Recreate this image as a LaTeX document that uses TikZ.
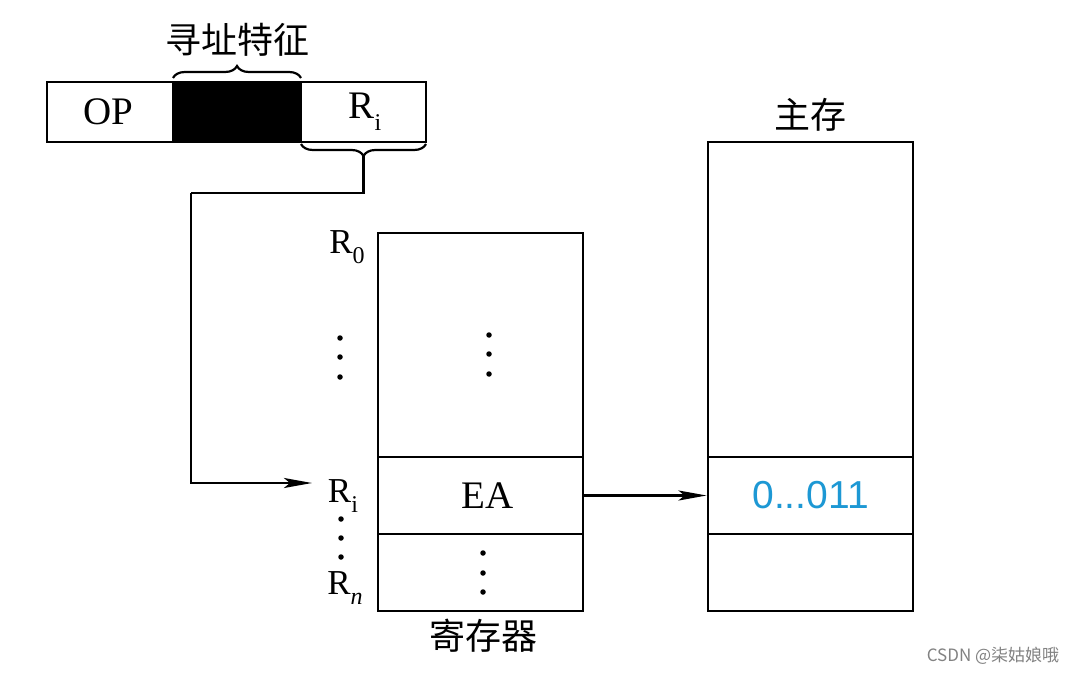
\documentclass[tikz,border=0pt]{standalone}
\usepackage{fontspec}
\setmainfont{Liberation Serif}
\newfontfamily\cjk{Noto Sans CJK SC}
\newfontfamily\sansf{Liberation Sans}
\usetikzlibrary{arrows.meta,decorations.pathreplacing}
\definecolor{valblue}{RGB}{29,152,212}
\definecolor{wmgray}{RGB}{130,130,130}
\newcommand\subt[1]{\raisebox{-.3em}{\fontsize{24}{24}\selectfont #1}}
\begin{document}
\begin{tikzpicture}[x=1pt,y=-1pt,
  cell/.style={draw,line width=2.9pt,inner sep=0pt,minimum width=#1,anchor=center},
  txt/.style={font=\fontsize{39}{42}\selectfont,inner sep=0pt},
  lbl/.style={font=\fontsize{35}{38}\selectfont,inner sep=0pt},
  cjkt/.style={font=\cjk\fontsize{36}{40}\selectfont,inner sep=0pt},
  conn/.style={line width=2.6pt},
  arr/.style={line width=2.6pt,-{Stealth[length=28pt,width=10pt,inset=6pt]}},
  brc/.style={line width=2.2pt,decorate,decoration={brace,amplitude=12pt,aspect=0.5}},
  dotc/.style={fill,circle,inner sep=0pt,minimum size=5.5pt}
]
\useasboundingbox[fill=white] (0,0) rectangle (1077,674);

% instruction word
\node[cell=126pt,minimum height=60pt,txt] (op) at (110,112) {OP\hspace*{4pt}};
\node[cell=128pt,minimum height=60pt,fill=black] (mode) at (237,112) {};
\node[cell=125pt,minimum height=60pt,txt] (ri) at (363.5,112) {\hspace*{3pt}R\subt{i}};
\draw[brc] (173,78) -- (301,78);
\node[cjkt] (feat) at (237,40) {寻址特征};
\draw[brc] (426,144) -- (301,144);
\coordinate (bt) at (363.5,156);
\coordinate (c1) at (191,193);
\coordinate (arrEnd) at (312,483);

% registers
\node[cell=205pt,minimum height=224pt] (regTop) at (480.5,345) {};
\node[cell=205pt,minimum height=77pt,txt] (regEA) at (480.5,495.5) {\hspace*{14pt}EA};
\node[cell=205pt,minimum height=77pt] (regN) at (480.5,572.5) {};
\node[cjkt] (regL) at (483,636) {寄存器};

\node[lbl] (r0) at (347,247) {R\subt{0}};
\node[lbl] (rI) at (343,496) {R\subt{i}};
\node[lbl] (rN) at (345,588) {R\subt{\itshape n}};

\foreach \y in {338,357,377} \node[dotc] at (340,\y) {};
\foreach \y in {335,354,374} \node[dotc] at (489,\y) {};
\foreach \y in {519,538,557} \node[dotc] at (341,\y) {};
\foreach \y in {553,573,592} \node[dotc] at (483,\y) {};

% memory
\node[cell=205pt,minimum height=315pt] (memTop) at (810.5,299.5) {};
\node[cell=205pt,minimum height=77pt,font=\sansf\fontsize{39}{40}\selectfont,text=valblue] (memA) at (810.5,495.5) {0...011};
\node[cell=205pt,minimum height=77pt] (memB) at (810.5,572.5) {};
\node[cjkt] (memL) at (810,115) {主存};

% connectors
\draw[conn] (bt) |- (c1);
\draw[arr] (c1) |- (arrEnd);
\draw[arr] (regEA.east) -- (memA.west);

% watermark
\node[font=\cjk\fontsize{17}{19}\selectfont,text=wmgray,inner sep=0pt] (wm) at (993,656) {CSDN @柒姑娘哦};
\end{tikzpicture}
\end{document}
